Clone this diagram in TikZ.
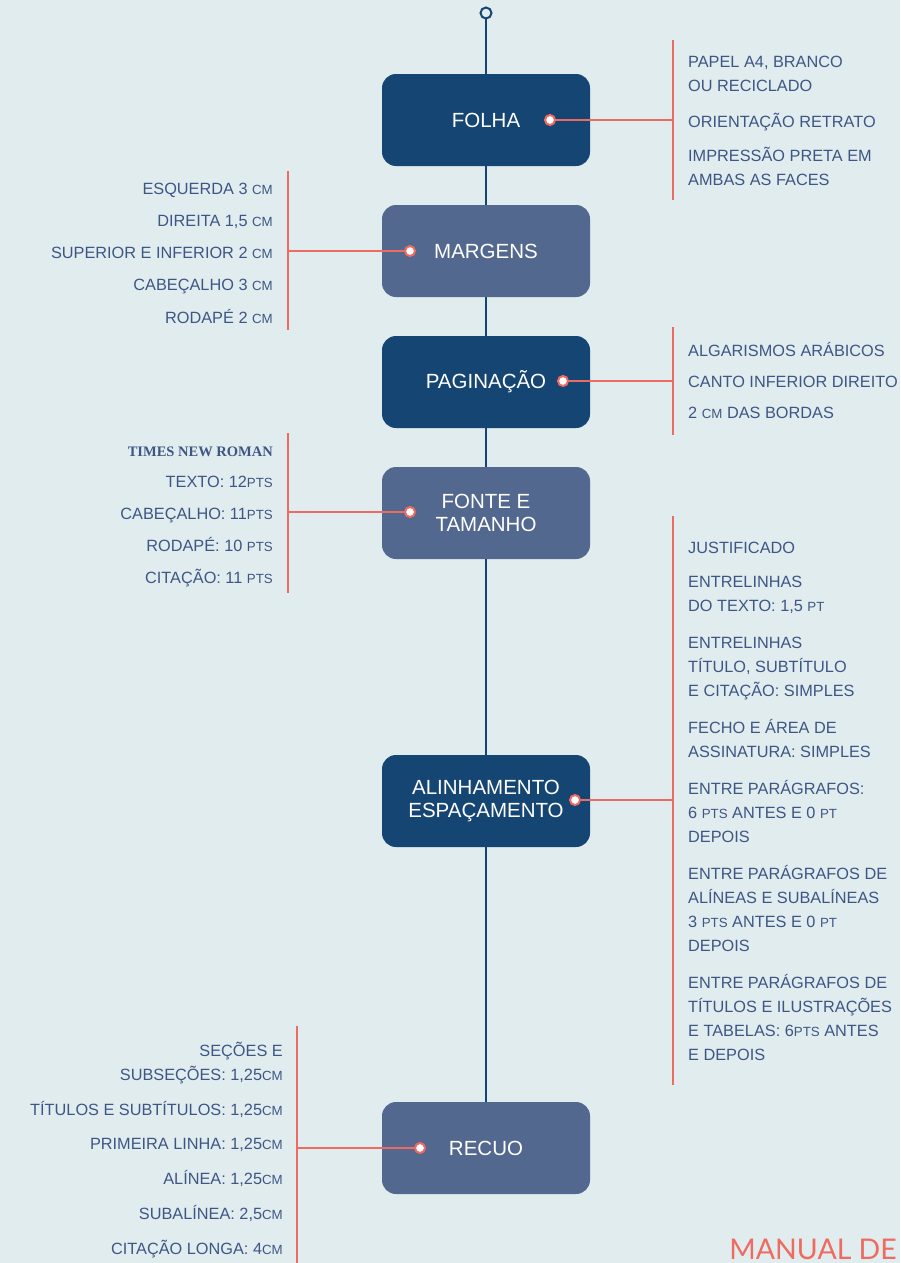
\documentclass[tikz,border=0pt]{standalone}
\usepackage{fontspec}
\setmainfont{Liberation Sans}
\newfontfamily\timesfont{Liberation Serif}
\newfontfamily\manualfont{Lato}
\definecolor{bgc}{RGB}{225,236,239}
\definecolor{darkc}{RGB}{21,69,115}
\definecolor{lightc}{RGB}{83,104,142}
\definecolor{redc}{RGB}{238,107,97}
\definecolor{textc}{RGB}{62,86,132}
\newcommand{\lowc}[1]{{\fontsize{13.3}{13.3}\selectfont #1}}

\begin{document}
\begin{tikzpicture}[x=1pt,y=-1pt,
  box/.style={rectangle,rounded corners=14pt,minimum width=208pt,minimum height=92pt,
    inner sep=0pt,align=center,text=white,font=\fontsize{20.5}{23.5}\selectfont},
  darkbox/.style={box,fill=darkc},
  lightbox/.style={box,fill=lightc},
  dot/.style={circle,draw=redc,fill=white,line width=2pt,inner sep=0pt,minimum size=10pt},
  spine/.style={darkc,line width=2.5pt},
  redline/.style={redc,line width=2.2pt},
  item/.style={inner sep=0pt,text=textc,font=\fontsize{16.3}{24}\selectfont,yshift=-2pt,
    execute at begin node=\strut,execute at end node=\strut},
  rtext/.style={item,anchor=west,align=left},
  ltext/.style={item,anchor=east,align=right}]

\fill[bgc] (0,0) rectangle (900,1263);
\useasboundingbox (0,0) rectangle (900,1263);

%% boxes on the spine
\node (top) at (486,13) [circle,draw=darkc,fill=bgc,line width=2pt,inner sep=0pt,minimum size=11pt] {};
\node (folha) at (486,120) [darkbox] {FOLHA};
\node (margens) at (486,251) [lightbox] {MARGENS};
\node (pagina) at (486,382) [darkbox] {PAGINAÇÃO};
\node (fonte) at (486,513) [lightbox] {FONTE E\\TAMANHO};
\node (alinha) at (486,801) [darkbox] {ALINHAMENTO\\ESPAÇAMENTO};
\node (recuo) at (486,1148) [lightbox] {RECUO};

\draw[spine] (top) -- (folha);
\draw[spine] (folha) -- (margens);
\draw[spine] (margens) -- (pagina);
\draw[spine] (pagina) -- (fonte);
\draw[spine] (fonte) -- (alinha);
\draw[spine] (alinha) -- (recuo);

%% bars
\coordinate (folhaA) at (673,40);   \coordinate (folhaB) at (673,200);   \coordinate (folhaC) at (673,120);
\coordinate (margA) at (288,171);   \coordinate (margB) at (288,330);    \coordinate (margC) at (288,251);
\coordinate (pagA) at (673,327);    \coordinate (pagB) at (673,435);     \coordinate (pagC) at (673,381);
\coordinate (fontA) at (288,433);   \coordinate (fontB) at (288,593);    \coordinate (fontC) at (288,512);
\coordinate (alinA) at (673,516);   \coordinate (alinB) at (673,1085);   \coordinate (alinC) at (673,800);
\coordinate (recA) at (297,1026);   \coordinate (recB) at (297,1263);    \coordinate (recC) at (297,1148);

\draw[redline] (folhaA) -- (folhaB);
\draw[redline] (margA) -- (margB);
\draw[redline] (pagA) -- (pagB);
\draw[redline] (fontA) -- (fontB);
\draw[redline] (alinA) -- (alinB);
\draw[redline] (recA) -- (recB);

\node (folhadot) at (550,120) [dot] {};
\node (margdot) at (410,251) [dot] {};
\node (pagdot) at (563,381) [dot] {};
\node (fontdot) at (410,512) [dot] {};
\node (alindot) at (575,800) [dot] {};
\node (recdot) at (420,1148) [dot] {};

\draw[redline] (folhadot) -- (folhaC);
\draw[redline] (margdot) -- (margC);
\draw[redline] (pagdot) -- (pagC);
\draw[redline] (fontdot) -- (fontC);
\draw[redline] (alindot) -- (alinC);
\draw[redline] (recdot) -- (recC);

%% folha
\node (f1) at (688,75) [rtext] {PAPEL A4, BRANCO\\OU RECICLADO};
\node (f2) at (688,121) [rtext] {ORIENTAÇÃO RETRATO};
\node (f3) at (688,168) [rtext] {IMPRESSÃO PRETA EM\\AMBAS AS FACES};

%% margens
\node (m1) at (273,188) [ltext] {ESQUERDA 3 \lowc{CM}};
\node (m2) at (273,220) [ltext] {DIREITA 1,5 \lowc{CM}};
\node (m3) at (273,252) [ltext] {SUPERIOR E INFERIOR 2 \lowc{CM}};
\node (m4) at (273,284) [ltext] {CABEÇALHO 3 \lowc{CM}};
\node (m5) at (273,317) [ltext] {RODAPÉ 2 \lowc{CM}};

%% paginacao
\node (p1) at (688,350) [rtext] {ALGARISMOS ARÁBICOS};
\node (p2) at (688,381) [rtext] {CANTO INFERIOR DIREITO};
\node (p3) at (688,412) [rtext] {2 \lowc{CM} DAS BORDAS};

%% fonte e tamanho
\node (t1) at (273,450) [ltext,font=\timesfont\bfseries\fontsize{14.5}{20}\selectfont] {TIMES NEW ROMAN};
\node (t2) at (273,481) [ltext] {TEXTO: 12\lowc{PTS}};
\node (t3) at (273,513) [ltext] {CABEÇALHO: 11\lowc{PTS}};
\node (t4) at (273,545) [ltext] {RODAPÉ: 10 \lowc{PTS}};
\node (t5) at (273,577) [ltext] {CITAÇÃO: 11 \lowc{PTS}};

%% alinhamento e espacamento
\node (a1) at (688,547) [rtext] {JUSTIFICADO};
\node (a2) at (688,595) [rtext] {ENTRELINHAS\\DO TEXTO: 1,5 \lowc{PT}};
\node (a3) at (688,668) [rtext] {ENTRELINHAS\\TÍTULO, SUBTÍTULO\\E CITAÇÃO: SIMPLES};
\node (a4) at (688,740) [rtext] {FECHO E ÁREA DE\\ASSINATURA: SIMPLES};
\node (a5) at (688,813) [rtext] {ENTRE PARÁGRAFOS:\\6 \lowc{PTS} ANTES E 0 \lowc{PT}\\DEPOIS};
\node (a6) at (688,910) [rtext] {ENTRE PARÁGRAFOS DE\\ALÍNEAS E SUBALÍNEAS\\3 \lowc{PTS} ANTES E 0 \lowc{PT}\\DEPOIS};
\node (a7) at (688,1019) [rtext] {ENTRE PARÁGRAFOS DE\\TÍTULOS E ILUSTRAÇÕES\\E TABELAS: 6\lowc{PTS} ANTES\\E DEPOIS};

%% recuo
\node (r1) at (283,1063) [ltext] {SEÇÕES E\\SUBSEÇÕES: 1,25\lowc{CM}};
\node (r2) at (283,1109) [ltext] {TÍTULOS E SUBTÍTULOS: 1,25\lowc{CM}};
\node (r3) at (283,1143) [ltext] {PRIMEIRA LINHA: 1,25\lowc{CM}};
\node (r4) at (283,1178) [ltext] {ALÍNEA: 1,25\lowc{CM}};
\node (r5) at (283,1213) [ltext] {SUBALÍNEA: 2,5\lowc{CM}};
\node (r6) at (283,1248) [ltext] {CITAÇÃO LONGA: 4\lowc{CM}};

\node (manual) at (897,1249) [anchor=east,inner sep=0pt,text=redc,font=\manualfont\fontsize{28.5}{28.5}\selectfont] {MANUAL DE};

\end{tikzpicture}
\end{document}
